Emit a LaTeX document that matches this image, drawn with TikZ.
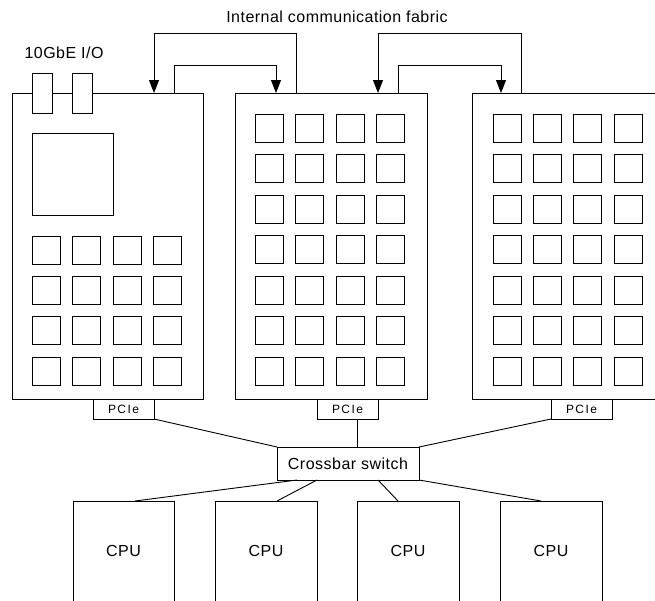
\documentclass[tikz,border=0pt]{standalone}
\usepackage{fontspec}
\setmainfont{Liberation Sans}
\usetikzlibrary{arrows.meta,calc}
\begin{document}
\begin{tikzpicture}[x=1pt,y=-1pt,
  every node/.style={inner sep=0pt,outer sep=0pt},
  box/.style={draw,line width=0.9pt,fill=white,rectangle},
  board/.style={box,minimum width=192pt,minimum height=306pt},
  tile/.style={box,line width=0.8pt,minimum width=28pt,minimum height=28pt},
  port/.style={box,minimum width=20pt,minimum height=40pt},
  pcie/.style={box,minimum width=61pt,minimum height=20pt,font=\fontsize{12}{14}\selectfont\addfontfeatures{LetterSpace=12}},
  bigfont/.style={font=\fontsize{16}{19}\selectfont\addfontfeatures{LetterSpace=3}},
  cpu/.style={box,bigfont,minimum width=102pt,minimum height=100pt},
  lbl/.style={bigfont},
  conn/.style={draw,line width=0.9pt},
  arr/.style={conn,-{Triangle[length=13pt,width=10pt]}}]
\clip (0,0) rectangle (655,600);
\fill[white] (0,0) rectangle (655,600);
% boards
\node[board,minimum width=191pt] (b1) at (107.5,246) {};
\node[board] (b2) at (331,246) {};
\node[board] (b3) at (568,246) {};
% ports
\node[port] (p1) at (42,93) {};
\node[port] (p2) at (82,93) {};
\node[lbl] (io) at (64,53) {10GbE I/O};
% big square
\node[box,minimum width=81pt,minimum height=82pt] (big) at (72.5,174) {};
% tiles board 1
\foreach \i in {0,...,3}{
  \foreach \j in {0,...,3}{
    \node[tile] (ta-\i-\j) at ({46+40.5*\i},{250+40.4*\j}) {};
  }
}
% tiles board 2
\foreach \i in {0,...,3}{
  \foreach \j in {0,...,6}{
    \node[tile] (tb-\i-\j) at ({269+40.6*\i},{128+40.5*\j}) {};
  }
}
% tiles board 3
\foreach \i in {0,...,3}{
  \foreach \j in {0,...,6}{
    \node[tile] (tc-\i-\j) at ({507+40.3*\i},{128+40.5*\j}) {};
  }
}
% fabric
\node[lbl] (fab) at (337,17) {Internal communication fabric};
\coordinate (a1) at (154,33);
\coordinate (a2) at (296,33);
\coordinate (a3) at (174,65);
\coordinate (a4) at (276,65);
\coordinate (a5) at (378,33);
\coordinate (a6) at (521,33);
\coordinate (a7) at (398,65);
\coordinate (a8) at (501,65);
\draw[arr] (b2.north -| a2) -- (a2) -- (a1) -- (b1.north -| a1);
\draw[arr] (b1.north -| a3) -- (a3) -- (a4) -- (b2.north -| a4);
\draw[arr] (b3.north -| a6) -- (a6) -- (a5) -- (b2.north -| a5);
\draw[arr] (b2.north -| a7) -- (a7) -- (a8) -- (b3.north -| a8);
% PCIe
\node[pcie] (e1) at (123.5,409) {PCIe};
\node[pcie] (e2) at (347.5,409) {PCIe};
\node[pcie] (e3) at (581.5,409) {PCIe};
% crossbar
\node[box,bigfont,minimum width=142pt,minimum height=33pt] (xb) at (348,463.5) {Crossbar switch};
\coordinate (c2) at (357,0);
\draw[conn] (e1.south east) -- (xb.north west);
\draw[conn] (e2.south -| c2) -- (xb.north -| c2);
\draw[conn] (e3.south west) -- (xb.north east);
% CPUs
\node[cpu,minimum width=101pt] (cpu1) at (123.5,551) {CPU};
\node[cpu] (cpu2) at (266,551) {CPU};
\node[cpu] (cpu3) at (408,551) {CPU};
\node[cpu] (cpu4) at (551,551) {CPU};
\draw[conn] ($(xb.south west)+(20,0)$) -- ($(cpu1.north west)+(62,0)$);
\draw[conn] ($(xb.south west)+(40,0)$) -- ($(cpu2.north west)+(62,0)$);
\draw[conn] ($(xb.south west)+(101,0)$) -- ($(cpu3.north west)+(41,0)$);
\draw[conn] (xb.south east) -- ($(cpu4.north west)+(41,0)$);
\end{tikzpicture}
\end{document}
